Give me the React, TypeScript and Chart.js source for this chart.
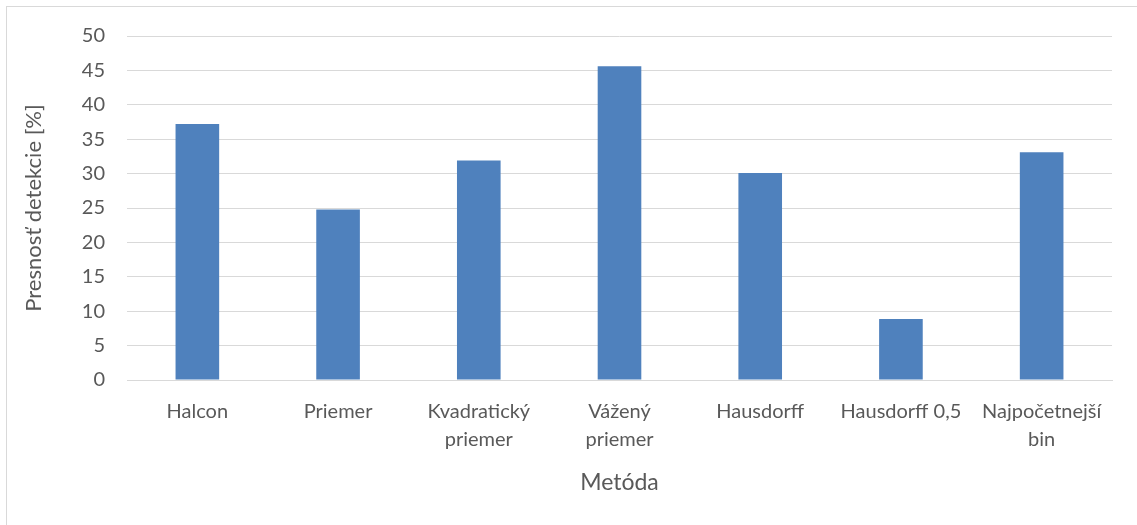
import React, { useEffect, useRef } from "react";
import { Chart, registerables } from "chart.js";

Chart.register(...registerables);

const categories: (string | string[])[] = [
  "Halcon",
  "Priemer",
  ["Kvadratický", "priemer"],
  ["Vážený", "priemer"],
  "Hausdorff",
  "Hausdorff 0,5",
  ["Najpočetnejší", "bin"],
];
const accuracy = [37.2, 24.8, 31.9, 45.6, 30.1, 8.85, 33.1];
const yTitle = "Presnosť detekcie [%]";
const xTitle = "Metóda";

const FONT = "Lato, 'Open Sans', sans-serif";
const TEXT = "#595959";
const GRID = "#d9d9d9";

export default function App() {
  const ref = useRef<HTMLCanvasElement | null>(null);
  useEffect(() => {
    if (!ref.current) return;
    const chart = new Chart(ref.current, {
      type: "bar",
      data: {
        labels: categories,
        datasets: [
          {
            data: accuracy,
            backgroundColor: "#4f81bd",
            borderWidth: 0,
            categoryPercentage: 1,
            barPercentage: 0.31,
          },
        ],
      },
      options: {
        responsive: false,
        animation: false,
        layout: { padding: { left: 0, right: 25, top: 36, bottom: 0 } },
        plugins: {
          legend: { display: false },
          tooltip: { enabled: false },
        },
        scales: {
          x: {
            grid: { display: false, drawTicks: false },
            border: { display: true, color: GRID, width: 1 },
            ticks: {
              color: TEXT,
              font: { family: FONT, size: 20, lineHeight: 1.4 },
              autoSkip: false,
              maxRotation: 0,
              minRotation: 0,
              padding: 18,
            },
            title: {
              display: true,
              text: xTitle,
              color: TEXT,
              font: { family: FONT, size: 23 },
              padding: { top: 0, bottom: 29 },
            },
            afterFit: (scale: any) => {
              scale.height = 145;
            },
          },
          y: {
            min: 0,
            max: 50,
            grid: { color: GRID, lineWidth: 1, drawTicks: false },
            border: { display: false },
            ticks: {
              stepSize: 5,
              color: TEXT,
              font: { family: FONT, size: 20 },
              padding: 22,
            },
            title: {
              display: true,
              text: yTitle,
              color: TEXT,
              font: { family: FONT, size: 22 },
              padding: { top: 21, bottom: 0 },
            },
            afterFit: (scale: any) => {
              scale.width = 127;
            },
          },
        },
      },
    });
    return () => chart.destroy();
  }, []);
  return (
    <div>
      <div
        style={{
          position: "fixed",
          left: 6,
          top: 6,
          width: 1200,
          height: 600,
          border: "1px solid #d9d9d9",
          boxSizing: "border-box",
        }}
      />
      <canvas
        ref={ref}
        width={1137}
        height={525}
        style={{ position: "fixed", left: 0, top: 0, display: "block" }}
      />
    </div>
  );
}
